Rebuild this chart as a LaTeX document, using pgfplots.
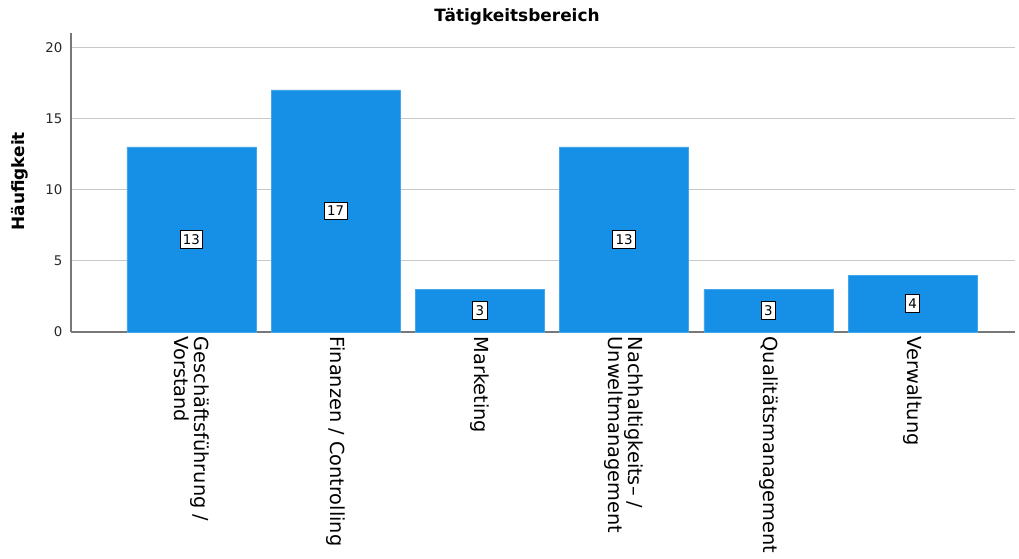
\documentclass[border=0pt]{standalone}
\usepackage{pgfplots}
\pgfplotsset{compat=1.18}
\usepackage{pgfplotstable}
\usepackage{fontspec}
\setmainfont{DejaVu Sans}
\definecolor{barblue}{RGB}{21,144,230}
\definecolor{gridgray}{RGB}{200,200,200}
\definecolor{axgray}{RGB}{120,120,120}
\definecolor{txtgray}{RGB}{40,40,40}
\pgfplotstableread{
x y
0 13
1 17
2 3
3 13
4 3
5 4
}\datatable
\begin{document}
\begin{tikzpicture}
\begin{axis}[
  name=ax, at={(0,0)}, anchor=south west,
  scale only axis, width=708pt, height=224.25pt,
  xmin=-0.835, xmax=5.71, ymin=0, ymax=21,
  axis x line*=bottom, axis y line*=left,
  axis line style={axgray, line width=1pt},
  ytick={0,5,10,15,20},
  ymajorgrids, grid style={gridgray, line width=0.9pt},
  major tick length=0pt,
  tick style={draw=none},
  yticklabel style={font=\fontsize{10pt}{11pt}\selectfont, text=txtgray, xshift=-3pt},
  /pgf/number format/assume math mode=true,
  xtick={0,1,2,3,4,5},
  xticklabels={{Geschäftsführung /\\Vorstand},{Finanzen / Controlling},{Marketing},{Nachhaltigkeits– /\\Unweltmanagement},{Qualitätsmanagement},{Verwaltung}},
  xticklabel style={rotate=-90, anchor=west, align=left, font=\fontsize{14.5pt}{13.5pt}\selectfont, text=black},
  ybar, bar width=0.895,
  clip=false,
]
\addplot[fill=barblue, draw=barblue!80!white, line width=0.4pt,
  nodes near coords,
  visualization depends on=rawy \as \rawy,
  every node near coord/.append style={anchor=center, fill=white, draw=black, line width=0.7pt, inner xsep=2.2pt, inner ysep=3pt, text=black, font=\fontsize{10pt}{11pt}\selectfont, shift={(axis direction cs:0,-0.5*\rawy)}},
] table[x=x, y=y] {\datatable};
\end{axis}
\node[font=\bfseries\fontsize{12.7pt}{14pt}\selectfont] at ([shift={(334.5pt,236.25pt)}]ax.south west) {Tätigkeitsbereich};
\node[font=\bfseries\fontsize{12.7pt}{14pt}\selectfont, rotate=90] at ([shift={(-38.25pt,113pt)}]ax.south west) {Häufigkeit};
\pgfresetboundingbox
\path ([shift={(-53.25pt,-170.25pt)}]ax.south west) rectangle ([shift={(711pt,249pt)}]ax.south west);
\end{tikzpicture}
\end{document}
